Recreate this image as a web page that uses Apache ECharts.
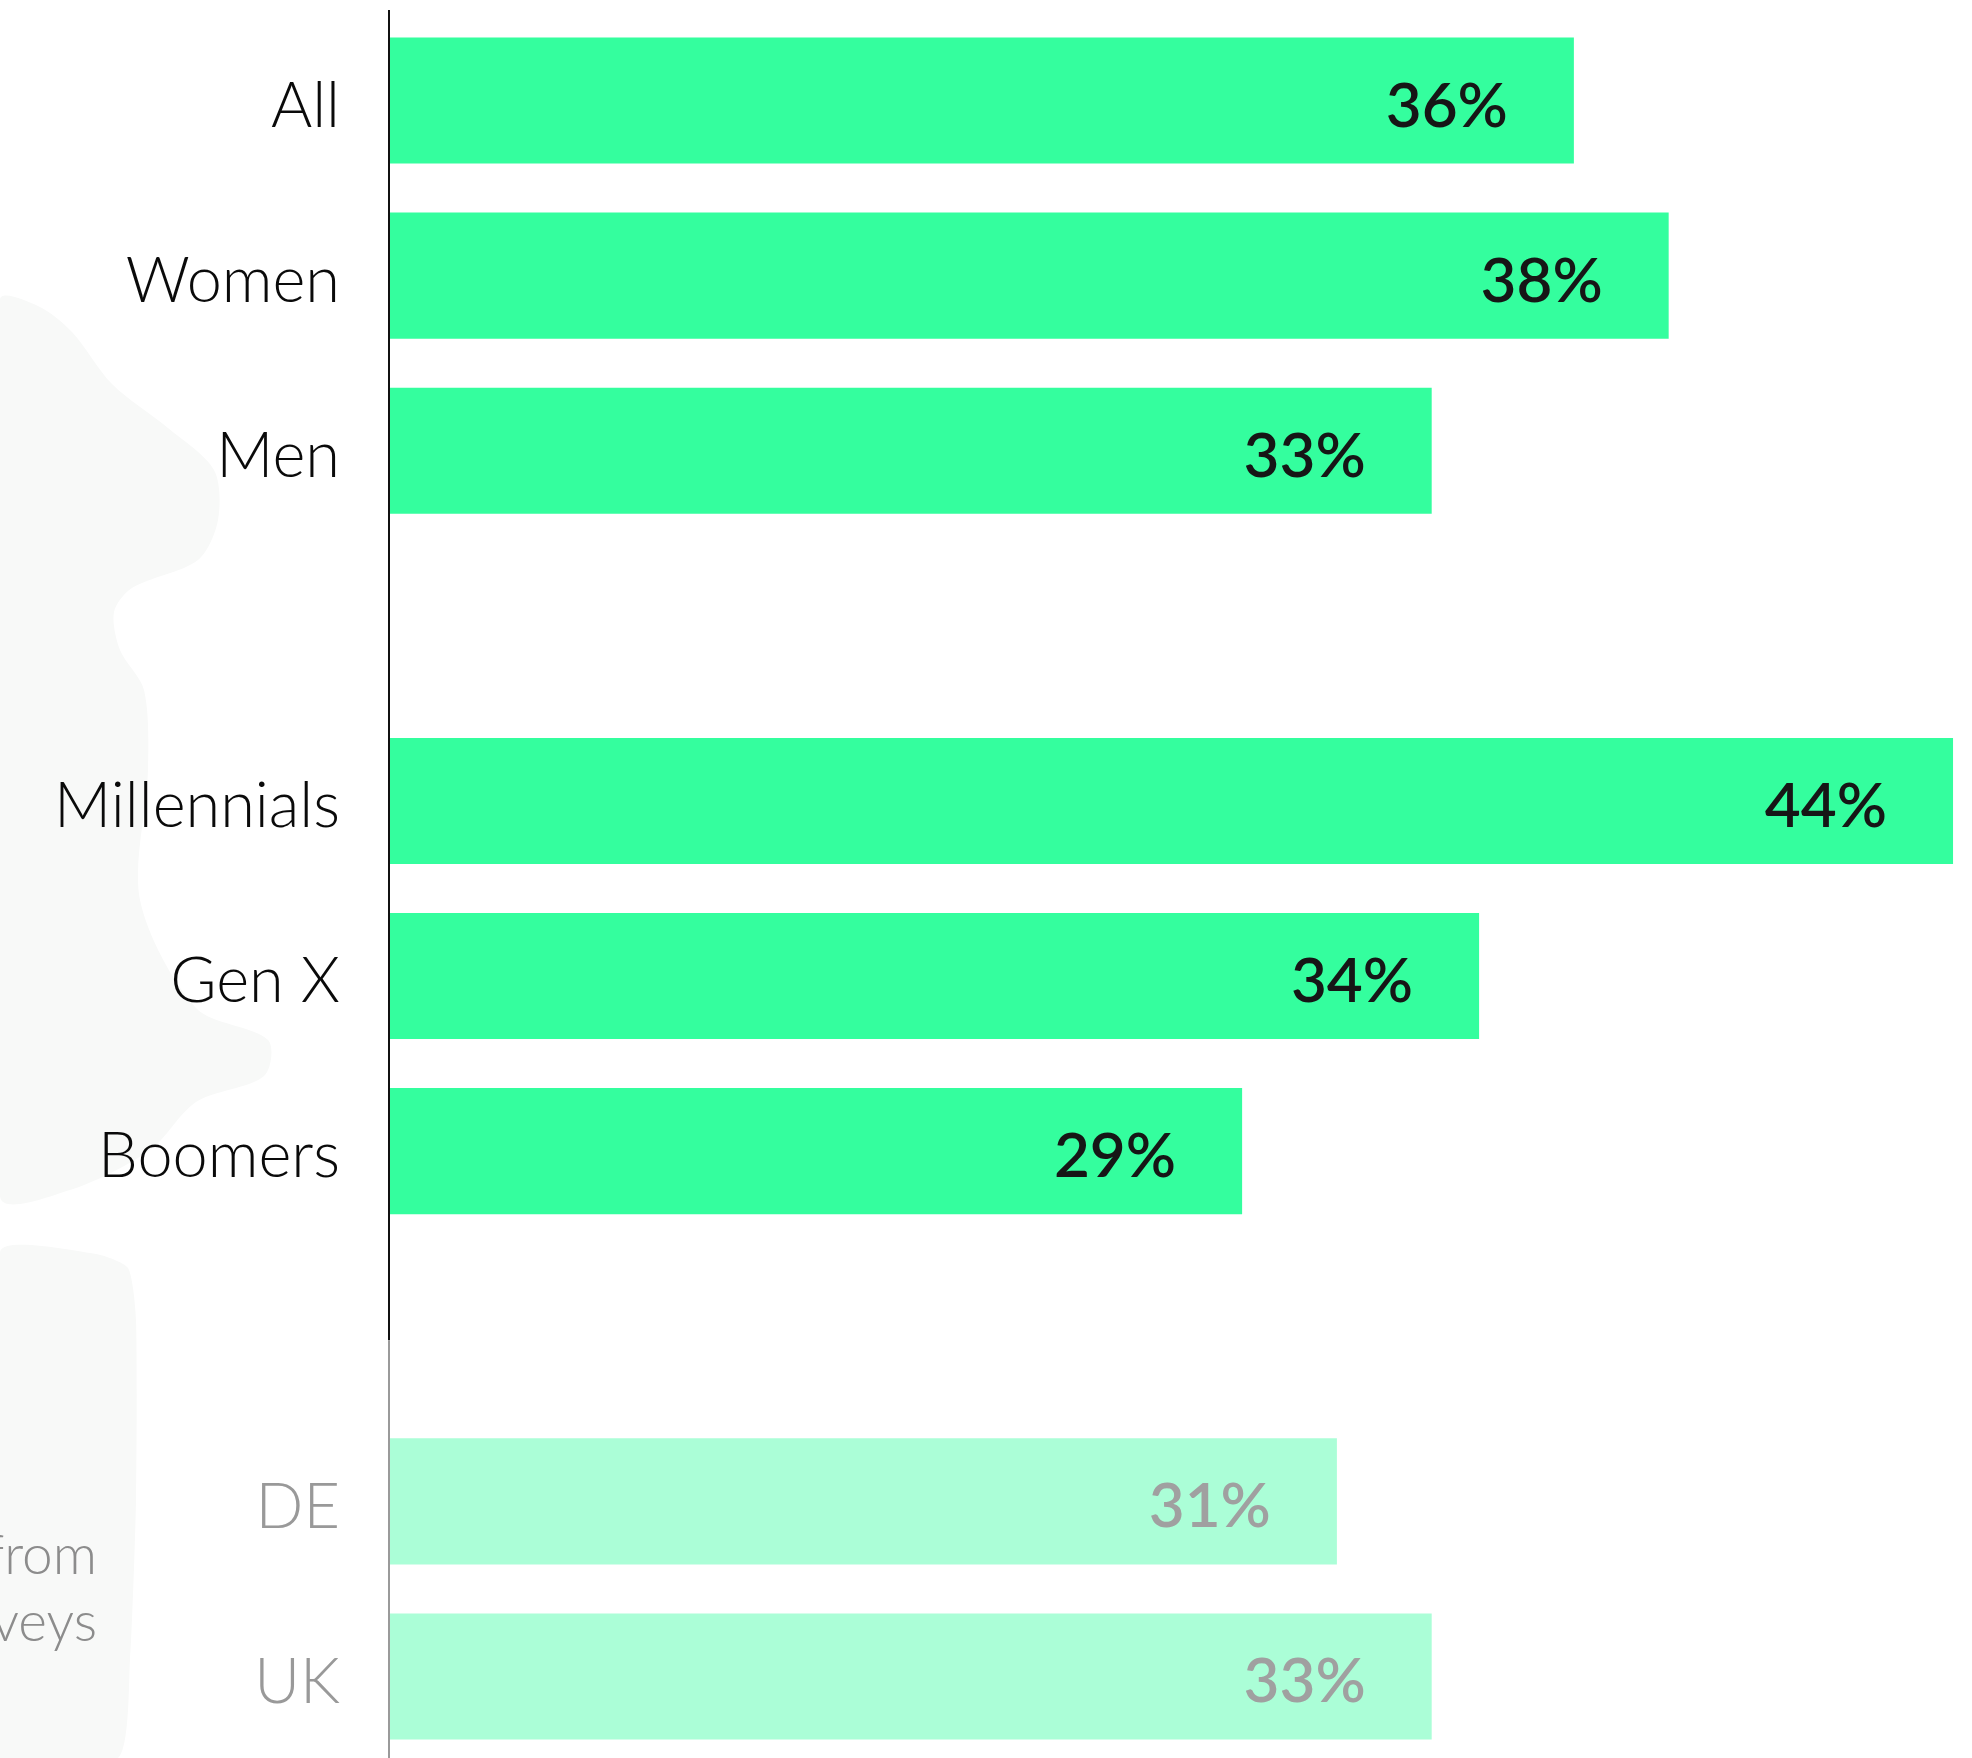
<!DOCTYPE html>
<html>
<head>
<meta charset="utf-8">
<script src="https://cdn.jsdelivr.net/npm/echarts@6/dist/echarts.min.js"></script>
<style>
  html, body { margin: 0; padding: 0; background: #ffffff; }
  #chart { width: 1972px; height: 1758px; }
</style>
</head>
<body>
<div id="chart"></div>
<script>
// Rows of the bar chart, top to bottom; blank entries are spacer rows between groups.
const categories = ['All', 'Women', 'Men', ' ', 'Millennials', 'Gen X', 'Boomers', '  ', 'DE', 'UK'];
// Share of respondents, in percent (null = spacer row).
const shares = [36, 38, 33, null, 44, 34, 29, null, 31, 33];
// Rows shown in the muted style.
const mutedRows = ['DE', 'UK'];
// Footnote lines at the lower left (mostly cropped by the left edge).
const footnoteLines = ['from', 'surveys'];

const GREEN = '#34fe9e';
const GREEN_LIGHT = '#abfed7';
const INK = '#161616';
const MUTED_TEXT = '#a0a0a0';
const MUTED_LABEL = '#999999';

const chart = echarts.init(document.getElementById('chart'), null, { renderer: 'canvas' });

const seriesData = categories.map((name, i) => {
  const muted = mutedRows.includes(name);
  return {
    value: shares[i],
    itemStyle: { color: muted ? GREEN_LIGHT : GREEN },
    label: { color: muted ? MUTED_TEXT : INK }
  };
});

const option = {
  backgroundColor: '#ffffff',
  animation: false,
  grid: {
    left: 389,
    right: 0,
    top: 13,
    height: 1751,
    containLabel: false,
    outerBoundsMode: 'none'
  },
  xAxis: {
    type: 'value',
    min: 11,
    max: 44.4,
    show: false,
    splitLine: { show: false }
  },
  yAxis: {
    type: 'category',
    inverse: true,
    data: categories,
    axisLine: { show: false },
    axisTick: { show: false },
    splitLine: { show: false },
    axisLabel: {
      margin: 49,
      formatter: (value) => '{t|' + value + '}',
      rich: {
        t: {
          padding: [12, 0, 0, 0],
          fontFamily: 'Lato',
          fontWeight: 300,
          fontSize: 63
        }
      },
      fontFamily: 'Lato',
      fontWeight: 300,
      fontSize: 63,
      color: (value) => mutedRows.includes(value) ? MUTED_LABEL : '#0a0a0a'
    }
  },
  series: [{
    type: 'bar',
    data: seriesData,
    barCategoryGap: '28%',
    label: {
      show: true,
      position: 'insideRight',
      distance: 66,
      offset: [0, 6],
      formatter: '{c}%',
      fontFamily: 'Lato',
      fontWeight: 600,
      fontSize: 62
    }
  }]
};

chart.setOption(option);

// Faint brush-stroke wash behind the left margin, plus the vertical axis rule:
// black along the first two groups, grey alongside the country rows.
function drawDecorations() {
  const yAll = chart.convertToPixel({ yAxisIndex: 0 }, categories[0]);
  const yNext = chart.convertToPixel({ yAxisIndex: 0 }, categories[1]);
  const pitch = yNext - yAll;
  const ySpacer = chart.convertToPixel({ yAxisIndex: 0 }, categories[7]);
  const x0 = chart.convertToPixel({ xAxisIndex: 0 }, option.xAxis.min);
  const ruleTop = yAll - pitch / 2 - 3;
  const ruleSplit = ySpacer + pitch * 0.08;
  const h = chart.getHeight();

  const wash = [
    [0, 300], [38, 306], [72, 332], [112, 384], [168, 428], [214, 470], [218, 520],
    [198, 560], [132, 588], [114, 612], [120, 650], [144, 690], [148, 770], [140, 900],
    [196, 1008], [268, 1040], [264, 1076], [196, 1102], [150, 1150], [70, 1190], [0, 1196]
  ];
  const wash2 = [
    [0, 1252], [96, 1254], [128, 1268], [136, 1320], [136, 1500], [130, 1660],
    [118, 1758], [0, 1758]
  ];

  const fnRight = 97;
  const fnFont = '300 55px Lato';
  chart.setOption({
    graphic: [
      { type: 'polygon', z: -10, silent: true, shape: { points: wash, smooth: 0.3 },
        style: { fill: '#f8f9f8' } },
      { type: 'polygon', z: -10, silent: true, shape: { points: wash2, smooth: 0.2 },
        style: { fill: '#f8f9f8' } },
      { type: 'text', z: -5, silent: true, x: fnRight, y: 1556,
        style: { text: footnoteLines[0], align: 'right', verticalAlign: 'middle',
                 font: fnFont, fill: '#8c8c8c' } },
      { type: 'text', z: -5, silent: true, x: fnRight, y: 1623,
        style: { text: footnoteLines[1], align: 'right', verticalAlign: 'middle',
                 font: fnFont, fill: '#8c8c8c' } },
      { type: 'line', z: 10, silent: true,
        shape: { x1: x0, y1: ruleTop, x2: x0, y2: ruleSplit },
        style: { stroke: '#111111', lineWidth: 2 } },
      { type: 'line', z: 10, silent: true,
        shape: { x1: x0, y1: ruleSplit, x2: x0, y2: h },
        style: { stroke: '#9a9a9a', lineWidth: 2 } }
    ]
  });
}

drawDecorations();
</script>
</body>
</html>
